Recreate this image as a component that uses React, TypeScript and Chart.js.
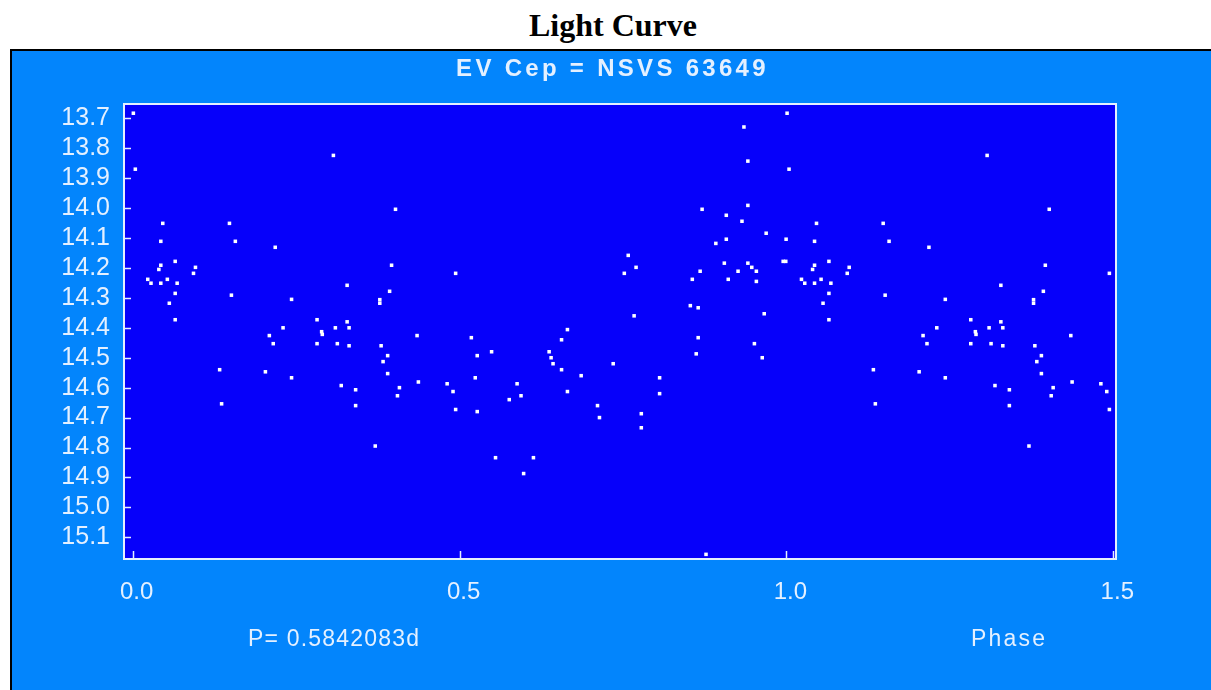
import React, { useEffect, useRef } from "react";
import { Chart, registerables } from "chart.js";

Chart.register(...registerables);

// ---- Data (base observations, phase 0..1) ----
const PHASES: number[] = [
  0.001, 0.004, 0.307, 0.402, 0.046, 0.148, 0.043, 0.157, 0.218, 0.065,
  0.043, 0.040, 0.096, 0.093, 0.396, 0.023, 0.028, 0.043, 0.053, 0.068,
  0.328, 0.393, 0.065, 0.151, 0.243, 0.378, 0.378, 0.056, 0.065, 0.282,
  0.328, 0.209, 0.230, 0.215, 0.289, 0.290, 0.310, 0.331, 0.282, 0.313,
  0.331, 0.380, 0.390, 0.383, 0.390, 0.435, 0.437, 0.133, 0.203, 0.243,
  0.319, 0.341, 0.408, 0.405, 0.136, 0.341, 0.371, 0.494, 0.758, 0.752,
  0.770, 0.935, 0.941, 0.871, 0.941, 0.908, 0.932, 0.969, 0.908, 0.892,
  0.9995, 0.941, 0.905, 0.947, 0.954, 0.868, 0.926, 0.856, 0.911, 0.954,
  0.995, 0.999, 0.853, 0.865, 0.767, 0.966, 0.865, 0.862, 0.951, 0.963,
  0.518, 0.527, 0.549, 0.637, 0.640, 0.643, 0.656, 0.656, 0.665, 0.686,
  0.735, 0.481, 0.490, 0.494, 0.524, 0.527, 0.588, 0.594, 0.576, 0.665,
  0.711, 0.714, 0.778, 0.778, 0.806, 0.806, 0.555, 0.613, 0.598, 0.877,
];

const MAGS: number[] = [
  13.683, 13.870, 13.824, 14.004, 14.051, 14.051, 14.111, 14.111, 14.131, 14.178,
  14.191, 14.205, 14.198, 14.218, 14.191, 14.238, 14.251, 14.251, 14.238, 14.251,
  14.258, 14.278, 14.285, 14.291, 14.305, 14.306, 14.318, 14.318, 14.373, 14.373,
  14.380, 14.426, 14.400, 14.453, 14.413, 14.422, 14.400, 14.400, 14.453, 14.453,
  14.460, 14.460, 14.493, 14.513, 14.553, 14.426, 14.581, 14.540, 14.547, 14.567,
  14.593, 14.607, 14.600, 14.627, 14.654, 14.660, 14.795, 14.218, 14.158, 14.218,
  14.198, 13.729, 13.843, 14.004, 13.991, 14.024, 14.044, 14.084, 14.104, 14.118,
  14.104, 14.184, 14.184, 14.198, 14.211, 14.211, 14.211, 14.238, 14.238, 14.245,
  14.178, 14.178, 14.326, 14.333, 14.360, 14.353, 14.433, 14.487, 14.453, 14.500,
  14.433, 14.493, 14.480, 14.480, 14.500, 14.520, 14.540, 14.440, 14.406, 14.560,
  14.520, 14.587, 14.613, 14.673, 14.567, 14.680, 14.587, 14.627, 14.640, 14.613,
  14.660, 14.700, 14.687, 14.734, 14.567, 14.620, 14.834, 14.834, 14.887, 15.157,
];

const X_TICKS: number[] = [0.0, 0.5, 1.0, 1.5];
const Y_TICKS: number[] = [
  13.7, 13.8, 13.9, 14.0, 14.1, 14.2, 14.3, 14.4, 14.5, 14.6, 14.7, 14.8, 14.9, 15.0, 15.1,
];

const TITLE = "Light Curve";
const SUBTITLE = "EV Cep = NSVS 63649";
const PERIOD_LABEL = "P= 0.5842083d";
const X_LABEL = "Phase";

const BOX_BG = "#0385FC";
const PLOT_BG = "#0600FA";
const LIGHT = "#E4F0FF";
const SANS = "'Liberation Sans', Arial, sans-serif";

const framePlugin = {
  id: "lcFrame",
  beforeDraw(chart: any) {
    const { ctx, chartArea: a } = chart;
    ctx.save();
    ctx.fillStyle = PLOT_BG;
    ctx.fillRect(a.left, a.top, a.right - a.left, a.bottom - a.top);
    ctx.restore();
  },
  afterDatasetsDraw(chart: any) {
    const { ctx, chartArea: a, scales } = chart;
    ctx.save();
    ctx.strokeStyle = LIGHT;
    ctx.lineWidth = 2;
    ctx.strokeRect(a.left, a.top, a.right - a.left, a.bottom - a.top);
    ctx.lineWidth = 1.5;
    ctx.beginPath();
    for (const v of Y_TICKS) {
      const py = Math.round(scales.y.getPixelForValue(v)) + 0.5;
      ctx.moveTo(a.left, py);
      ctx.lineTo(a.left + 7, py);
    }
    for (const v of X_TICKS) {
      const px = Math.round(scales.x.getPixelForValue(v)) + 0.5;
      ctx.moveTo(px, a.bottom);
      ctx.lineTo(px, a.bottom - 8);
    }
    ctx.stroke();
    ctx.restore();
  },
};

export default function App() {
  const canvasRef = useRef<HTMLCanvasElement | null>(null);

  useEffect(() => {
    if (!canvasRef.current) return;
    const base = PHASES.map((p, i) => ({ x: p, y: MAGS[i] }));
    const secondCycle = base.filter((pt) => pt.x < 0.503).map((pt) => ({ x: pt.x + 1, y: pt.y }));
    const chart = new Chart(canvasRef.current, {
      type: "scatter",
      data: {
        datasets: [
          {
            label: "mag",
            data: [...base, ...secondCycle],
            pointStyle: "rect",
            pointRadius: 2.5,
            pointBorderWidth: 0,
            pointBackgroundColor: "#FFFFFF",
            pointBorderColor: "#FFFFFF",
          },
        ],
      },
      options: {
        animation: false,
        responsive: false,
        devicePixelRatio: 1,
        layout: { padding: { left: 0, top: 104, right: 95, bottom: 71 } },
        plugins: {
          legend: { display: false },
          title: { display: false },
          tooltip: { enabled: false },
        },
        scales: {
          x: {
            type: "linear",
            min: -0.01331,
            max: 1.50413,
            grid: { display: false, drawTicks: false, tickLength: 0 },
            border: { display: false },
            afterBuildTicks: (s: any) => {
              s.ticks = X_TICKS.map((v) => ({ value: v }));
            },
            afterFit: (s: any) => {
              s.height = 60;
            },
            ticks: {
              color: LIGHT,
              font: { family: SANS, size: 24 },
              padding: 19,
              labelOffset: 4,
              maxRotation: 0,
              autoSkip: false,
              callback: (v: any) => Number(v).toFixed(1),
            },
          },
          y: {
            type: "linear",
            reverse: true,
            min: 13.6522,
            max: 15.1725,
            grid: { display: false, drawTicks: false, tickLength: 0 },
            border: { display: false },
            afterBuildTicks: (s: any) => {
              s.ticks = Y_TICKS.map((v) => ({ value: v }));
            },
            afterFit: (s: any) => {
              s.width = 124;
            },
            ticks: {
              color: LIGHT,
              font: { family: SANS, size: 25 },
              padding: 14,
              autoSkip: false,
              callback: (v: any) => Number(v).toFixed(1),
            },
          },
        },
      },
      plugins: [framePlugin],
    } as any);
    return () => chart.destroy();
  }, []);

  return (
    <div
      style={{
        position: "fixed",
        left: 0,
        top: 0,
        width: 1211,
        height: 690,
        overflow: "hidden",
        background: "#FFFFFF",
      }}
    >
      <div
        style={{
          position: "absolute",
          left: 0,
          width: 1226,
          top: 9,
          textAlign: "center",
          fontFamily: "'Liberation Serif', 'Times New Roman', serif",
          fontWeight: "bold",
          fontSize: 32,
          lineHeight: "32px",
          color: "#000",
        }}
      >
        {TITLE}
      </div>
      <div
        style={{
          position: "absolute",
          left: 10,
          top: 49,
          width: 1230,
          height: 680,
          background: BOX_BG,
          border: "2px solid #000",
        }}
      />
      <canvas
        ref={canvasRef}
        width={1211}
        height={690}
        style={{ position: "absolute", left: 0, top: 0, width: 1211, height: 690 }}
      />
      <div
        style={{
          position: "absolute",
          left: 0,
          width: 1225,
          top: 56,
          textAlign: "center",
          fontFamily: SANS,
          fontWeight: "bold",
          fontSize: 24,
          lineHeight: "24px",
          letterSpacing: "3.3px",
          color: LIGHT,
        }}
      >
        {SUBTITLE}
      </div>
      <div
        style={{
          position: "absolute",
          left: 248,
          top: 627,
          fontFamily: SANS,
          fontSize: 23,
          lineHeight: "23px",
          letterSpacing: "1.2px",
          color: LIGHT,
          whiteSpace: "nowrap",
        }}
      >
        {PERIOD_LABEL}
      </div>
      <div
        style={{
          position: "absolute",
          left: 971,
          top: 627,
          fontFamily: SANS,
          fontSize: 23,
          lineHeight: "23px",
          letterSpacing: "2.2px",
          color: LIGHT,
          whiteSpace: "nowrap",
        }}
      >
        {X_LABEL}
      </div>
    </div>
  );
}
